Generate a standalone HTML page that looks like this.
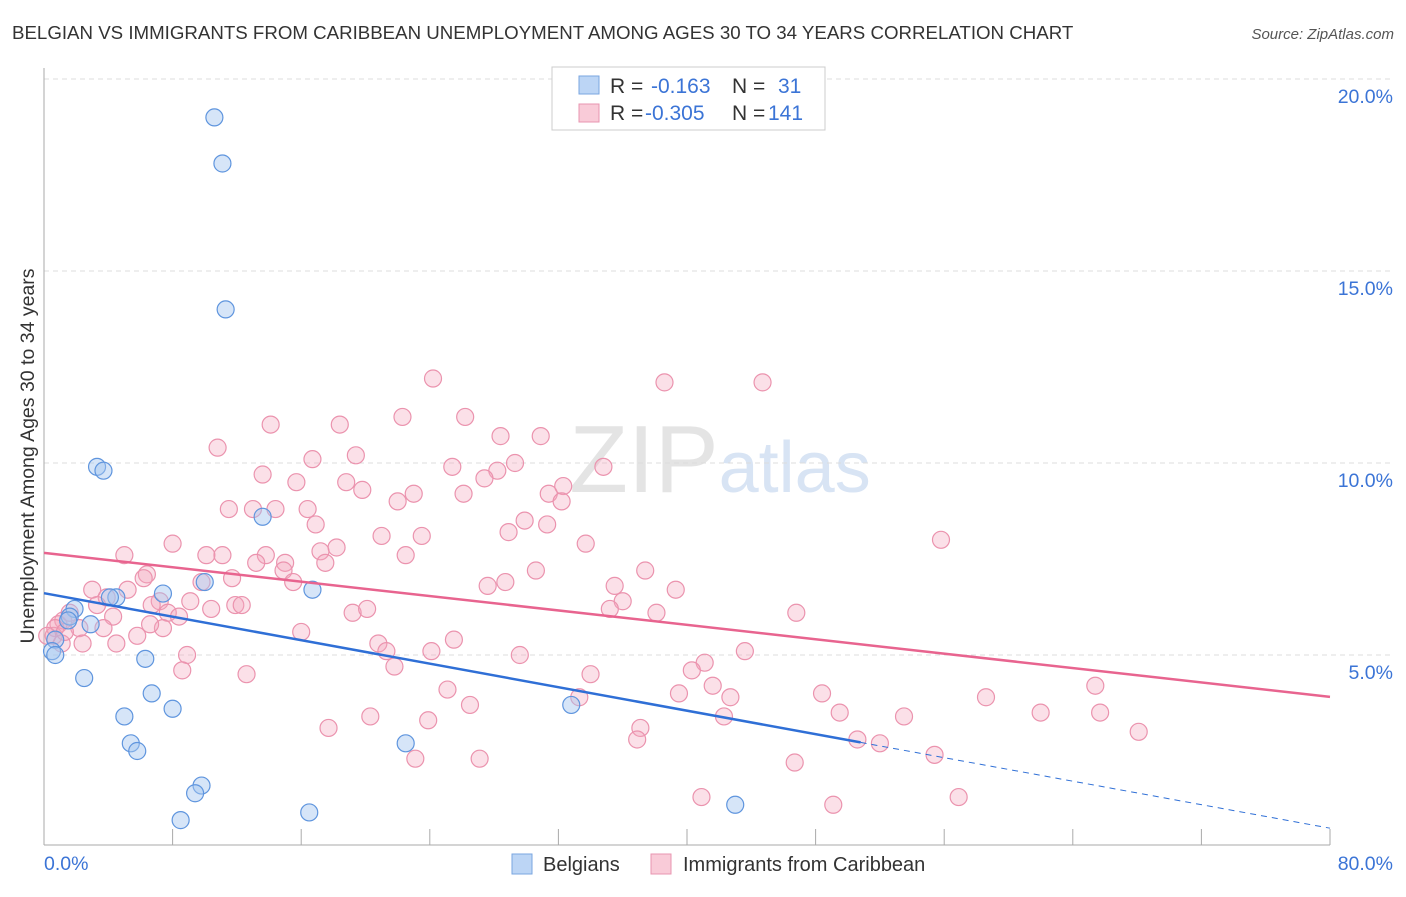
<!DOCTYPE html>
<html><head><meta charset="utf-8"><style>
body{margin:0;background:#fff;font-family:"Liberation Sans",sans-serif;}
svg text{font-family:"Liberation Sans",sans-serif;}
</style></head><body>
<svg id="chart" width="1406" height="892" viewBox="0 0 1406 892" xmlns="http://www.w3.org/2000/svg">
<text x="12" y="39" font-size="18.7" fill="#333">BELGIAN VS IMMIGRANTS FROM CARIBBEAN UNEMPLOYMENT AMONG AGES 30 TO 34 YEARS CORRELATION CHART</text>
<text x="1394" y="39" font-size="15" fill="#555" text-anchor="end" font-style="italic">Source: ZipAtlas.com</text>
<text x="720" y="492" font-size="96" fill="#e4e4e4" text-anchor="middle" font-family="Liberation Serif">ZIP<tspan fill="#d8e4f4" font-family="Liberation Sans" font-size="72">atlas</tspan></text>
<g id="grid"></g>
<g id="axes"></g>
<g id="pink"></g>
<g id="blue"></g>
<g id="trends"></g>
<text transform="translate(34,456) rotate(-90)" font-size="19.5" fill="#333" text-anchor="middle">Unemployment Among Ages 30 to 34 years</text>
<g>
<rect x="552" y="67" width="273" height="63" fill="#fff" stroke="#ccc"/>
<rect x="579" y="76" width="20" height="18" fill="#bcd5f5" stroke="#7aa6e0"/>
<text x="610" y="93" font-size="21" fill="#333">R = </text><text x="651" y="93" font-size="21" fill="#3b74d6">-0.163</text>
<text x="732" y="93" font-size="21" fill="#333">N = </text><text x="778" y="93" font-size="21" fill="#3b74d6">31</text>
<rect x="579" y="104" width="20" height="18" fill="#f9cbd8" stroke="#e896b0"/>
<text x="610" y="120" font-size="21" fill="#333">R = </text><text x="645" y="120" font-size="21" fill="#3b74d6">-0.305</text>
<text x="732" y="120" font-size="21" fill="#333">N = </text><text x="768" y="120" font-size="21" fill="#3b74d6">141</text>
</g>
<g>
<rect x="512" y="854" width="20" height="20" fill="#bcd5f5" stroke="#7aa6e0"/>
<text x="543" y="871" font-size="20" fill="#333">Belgians</text>
<rect x="651" y="854" width="20" height="20" fill="#f9cbd8" stroke="#e896b0"/>
<text x="683" y="871" font-size="20" fill="#333">Immigrants from Caribbean</text>
</g>
</svg>
<script>
const yTicks=[5,10,15,20];
const yTickLabels=["5.0%","10.0%","15.0%","20.0%"];
const xTicks=[0,8,16,24,32,40,48,56,64,72,80];
const xEndLabels=["0.0%","80.0%"];
const blueX=[10.6,11.1,11.3,3.3,3.7,13.6,10.0,7.4,16.7,4.5,4.1,1.9,1.6,2.9,1.5,0.7,0.5,0.7,6.3,2.5,6.7,8.0,5.0,5.4,5.8,22.5,32.8,9.8,9.4,8.5,16.5,43.0];
const blueY=[19.0,17.8,14.0,9.9,9.8,8.6,6.9,6.6,6.7,6.5,6.5,6.2,6.0,5.8,5.9,5.4,5.1,5.0,4.9,4.4,4.0,3.6,3.4,2.7,2.5,2.7,3.7,1.6,1.4,0.7,0.9,1.1];
const pinkX=[24.2,38.6,44.7,26.2,22.3,14.1,18.4,10.8,28.4,30.9,19.4,16.7,29.3,25.4,34.8,13.6,28.2,27.4,15.7,18.8,19.8,26.1,23.0,31.4,32.3,32.2,11.5,13.0,14.4,16.4,22.0,29.9,31.3,16.9,28.9,21.0,23.5,33.7,55.8,8.0,5.0,11.1,18.2,17.2,22.5,10.1,13.8,13.2,15.0,17.5,14.9,30.6,37.4,6.4,6.2,11.7,9.8,15.5,27.6,28.7,35.5,39.3,3.0,5.2,3.9,7.2,11.9,12.3,9.1,36.0,35.2,6.7,3.3,7.7,10.4,19.2,20.1,38.1,46.8,4.3,8.4,1.2,0.9,3.7,2.2,7.4,16.0,5.8,4.5,0.6,2.4,25.5,20.8,21.3,24.1,29.6,43.6,8.9,21.8,41.1,34.0,40.3,8.6,12.6,41.6,25.1,39.5,42.7,48.4,58.6,65.4,26.5,49.5,53.5,62.0,65.7,20.3,23.9,42.3,17.7,37.1,36.9,50.6,52.0,68.1,27.1,23.1,55.4,46.7,40.9,56.9,49.1,0.7,1.1,0.2,1.6,1.3,6.6,33.3];
const pinkY=[12.2,12.1,12.1,11.2,11.2,11.0,11.0,10.4,10.7,10.7,10.2,10.1,10.0,9.9,9.9,9.7,9.8,9.6,9.5,9.5,9.3,9.2,9.2,9.2,9.4,9.0,8.8,8.8,8.8,8.8,9.0,8.5,8.4,8.4,8.2,8.1,8.1,7.9,8.0,7.9,7.6,7.6,7.8,7.7,7.6,7.6,7.6,7.4,7.4,7.4,7.2,7.2,7.2,7.1,7.0,7.0,6.9,6.9,6.8,6.9,6.8,6.7,6.7,6.7,6.5,6.4,6.3,6.3,6.4,6.4,6.2,6.3,6.3,6.1,6.2,6.1,6.2,6.1,6.1,6.0,6.0,5.9,5.8,5.7,5.7,5.7,5.6,5.5,5.3,5.5,5.3,5.4,5.3,5.1,5.1,5.0,5.1,5.0,4.7,4.8,4.5,4.6,4.6,4.5,4.2,4.1,4.0,3.9,4.0,3.9,4.2,3.7,3.5,3.4,3.5,3.5,3.4,3.3,3.4,3.1,3.1,2.8,2.8,2.7,3.0,2.3,2.3,2.4,2.2,1.3,1.3,1.1,5.7,5.3,5.5,6.1,5.6,5.8,3.9];
const blueTrend=[6.61,0.49];
const blueSolidEnd=[50.8];
const pinkTrend=[7.66,3.91];

const NS="http://www.w3.org/2000/svg";
const X0=44,X1=1330,YB=847,PXPER=38.4;
function sx(v){return X0+(v/80)*(X1-X0);}
function sy(v){return YB-v*PXPER;}
function mk(tag,attrs,parent){const e=document.createElementNS(NS,tag);for(const k in attrs)e.setAttribute(k,attrs[k]);parent.appendChild(e);return e;}
const grid=document.getElementById('grid'),axes=document.getElementById('axes');
yTicks.forEach((t,i)=>{
  const l=mk('line',{x1:X0,x2:1392,y1:sy(t),y2:sy(t),stroke:'#ddd','stroke-dasharray':'5,4'},grid);
  
  
  const tx=mk('text',{x:1393,y:sy(t)+24,'font-size':19.5,fill:'#3b74d6','text-anchor':'end'},axes);
  tx.textContent=yTickLabels[i];
  
  
});
const ax=mk('line',{x1:X0,x2:X0,y1:68,y2:845,stroke:'#aaa'},axes);


const bx=mk('line',{x1:X0,x2:X1,y1:845,y2:845,stroke:'#aaa'},axes);


xTicks.forEach(t=>{
  const l=mk('line',{x1:sx(t),x2:sx(t),y1:829,y2:845,stroke:'#aaa'},axes);
  
  
});
const xl0=mk('text',{x:44,y:870,'font-size':19.5,fill:'#3b74d6'},axes);xl0.textContent=xEndLabels[0];


const xl1=mk('text',{x:1393,y:870,'font-size':19.5,fill:'#3b74d6','text-anchor':'end'},axes);xl1.textContent=xEndLabels[1];


const pg=document.getElementById('pink');
pinkX.forEach((x,i)=>{
  const c=mk('circle',{cx:sx(x),cy:sy(pinkY[i]),r:8.5,fill:'rgba(244,165,190,0.35)',stroke:'#eb93ae','stroke-width':1.2},pg);
  
  
});
const bg=document.getElementById('blue');
blueX.forEach((x,i)=>{
  const c=mk('circle',{cx:sx(x),cy:sy(blueY[i]),r:8.5,fill:'rgba(165,198,240,0.45)',stroke:'#5f95de','stroke-width':1.2},bg);
  
  
});
const tg=document.getElementById('trends');
function bt(x){return blueTrend[0]+(blueTrend[1]-blueTrend[0])*x/80;}
function pt(x){return pinkTrend[0]+(pinkTrend[1]-pinkTrend[0])*x/80;}
const p=mk('line',{x1:sx(0),y1:sy(pt(0)),x2:sx(80),y2:sy(pt(80)),stroke:'#e8648f','stroke-width':2.5},tg);


const b=mk('line',{x1:sx(0),y1:sy(bt(0)),x2:sx(blueSolidEnd[0]),y2:sy(bt(blueSolidEnd[0])),stroke:'#2f6fd6','stroke-width':2.5},tg);


const bd=mk('line',{x1:sx(blueSolidEnd[0]),y1:sy(bt(blueSolidEnd[0])),x2:sx(80),y2:sy(bt(80)),stroke:'#2f6fd6','stroke-width':1,'stroke-dasharray':'6,5'},tg);


</script>
</body></html>
